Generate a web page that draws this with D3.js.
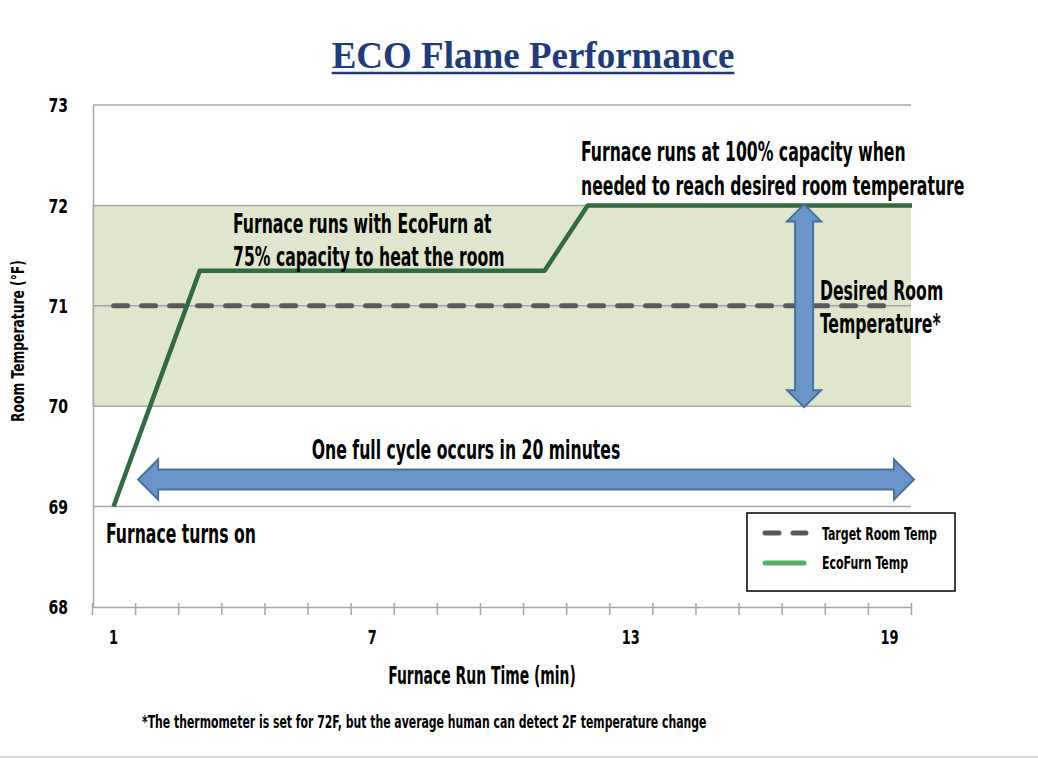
<!DOCTYPE html>
<html>
<head>
<meta charset="utf-8">
<script src="https://cdn.jsdelivr.net/npm/d3@7"></script>
<style>
  body { margin: 0; background: #fff; }
  svg { display: block; }
</style>
</head>
<body>
<div id="chart"></div>
<script>
// data
const minutes = d3.range(1, 20);              // 1..19 categories on the axis
const minuteLabels = [1, 7, 13, 19];
const tempTicks = [68, 69, 70, 71, 72, 73];
const targetTemp = minutes.map(() => 71);      // Target Room Temp
const ecoMinutes = d3.range(1, 21);            // line runs on past the last tick (clipped)
const ecoTemp = [69, 70.18, 71.35, 71.35, 71.35, 71.35, 71.35, 71.35, 71.35, 71.35,
                 71.35, 72, 72, 72, 72, 72, 72, 72, 72, 72];
const desiredBand = [70, 72];
const cycleArrow = { from: 1.57, to: 19.57, temp: 69.27 };
const rangeArrow = { minute: 17.02, from: 72.01, to: 69.99 };

const FONT = "'Liberation Sans Narrow', 'DejaVu Sans Condensed', sans-serif";
const SX = 0.645; // squeeze to get the condensed look

const W = 1038, H = 760;
const plotL = 92, plotR = 911, plotT = 105, plotB = 607;

const svg = d3.select("#chart").append("svg")
    .attr("width", W)
    .attr("height", H);

svg.append("rect").attr("width", W).attr("height", H).attr("fill", "#fff");

const x = d3.scaleLinear().domain([0.5, 19.5]).range([plotL, plotR]);
const y = d3.scaleLinear().domain([68, 73]).range([plotB, plotT]);

function label(g, px, py, str, size, opts) {
    opts = opts || {};
    return g.append("text")
        .attr("transform", "translate(" + px + "," + py + ") scale(" + (opts.sx || SX) + ",1)")
        .attr("font-family", FONT)
        .attr("font-size", size)
        .attr("font-weight", opts.weight || "bold")
        .attr("text-anchor", opts.anchor || "start")
        .attr("dy", opts.dy || null)
        .attr("fill", opts.fill || "#000")
        .text(str);
}

// title
const title = svg.append("text")
    .attr("x", 533)
    .attr("y", 68)
    .attr("text-anchor", "middle")
    .attr("font-family", "'Liberation Serif', 'Times New Roman', serif")
    .attr("font-weight", "bold")
    .attr("font-size", 37)
    .attr("fill", "#1f3b7c")
    .text("ECO Flame Performance");
const tw = title.node().getComputedTextLength();
svg.append("line")
    .attr("x1", 533 - tw / 2).attr("x2", 533 + tw / 2)
    .attr("y1", 73).attr("y2", 73)
    .attr("stroke", "#1f3b7c").attr("stroke-width", 2.5);

// desired band
svg.append("rect")
    .attr("x", x(0.5))
    .attr("y", y(desiredBand[1]))
    .attr("width", x(19.5) - x(0.5))
    .attr("height", y(desiredBand[0]) - y(desiredBand[1]))
    .attr("fill", "#dfe6cd");

// grid
svg.append("g").selectAll("line")
    .data(tempTicks.slice(1))
    .join("line")
    .attr("x1", x(0.5) + 1).attr("x2", x(19.5))
    .attr("y1", d => y(d)).attr("y2", d => y(d))
    .attr("stroke", "#a6a6a6").attr("stroke-width", 1.5);

// y axis
const yAxis = svg.append("g")
    .attr("transform", "translate(" + (x(0.5) + 1) + ",0)")
    .call(d3.axisLeft(y).tickValues(tempTicks).tickSize(0).tickFormat("").tickSizeOuter(0));
yAxis.select(".domain").attr("stroke", "#a6a6a6").attr("stroke-width", 1.5);

const yLabels = svg.append("g");
tempTicks.forEach(t => label(yLabels, 68, y(t), t, 20, { anchor: "end", dy: "0.36em", sx: 0.78 }));

// x axis: tick marks between categories, labels every 6th
const xAxis = svg.append("g")
    .attr("transform", "translate(0," + plotB + ")")
    .call(d3.axisBottom(x).tickValues(d3.range(0.5, 20, 1)).tickFormat("").tickSizeOuter(0));
xAxis.select(".domain").attr("stroke", "#a6a6a6").attr("stroke-width", 1.5);
xAxis.selectAll(".tick line").attr("y1", -4).attr("y2", 8).attr("stroke", "#a6a6a6").attr("stroke-width", 1.5);

const xLabels = svg.append("g");
minuteLabels.forEach(m => label(xLabels, x(m), 644, m, 20, { anchor: "middle", sx: 0.72 }));

// axis titles
label(svg, 482, 684, "Furnace Run Time (min)", 24, { anchor: "middle" });
svg.append("text")
    .attr("transform", "translate(24,341) rotate(-90) scale(0.76,1)")
    .attr("text-anchor", "middle")
    .attr("font-family", FONT)
    .attr("font-size", 18)
    .attr("font-weight", "bold")
    .text("Room Temperature (\u00B0F)");

// target line
svg.append("path")
    .datum(minutes)
    .attr("fill", "none")
    .attr("stroke", "#595959")
    .attr("stroke-width", 5)
    .attr("stroke-linecap", "round")
    .attr("stroke-dasharray", "14,14")
    .attr("d", d3.line().x(d => x(d)).y((d, i) => y(targetTemp[i])));

// EcoFurn line
svg.append("clipPath").attr("id", "plotclip")
    .append("rect")
    .attr("x", x(0.5)).attr("y", 0)
    .attr("width", x(19.5) - x(0.5) + 1).attr("height", H);

svg.append("path")
    .datum(ecoMinutes)
    .attr("clip-path", "url(#plotclip)")
    .attr("fill", "none")
    .attr("stroke", "#316b41")
    .attr("stroke-width", 4.5)
    .attr("stroke-linejoin", "round")
    .attr("d", d3.line().x(d => x(d)).y((d, i) => y(ecoTemp[i])));

// arrows
function arrowPath(x1, y1, x2, y2, headLen, headHalf, shaftHalf) {
    const len = Math.hypot(x2 - x1, y2 - y1);
    const ux = (x2 - x1) / len, uy = (y2 - y1) / len;
    const nx = -uy, ny = ux;
    const pts = [
        [0, 0], [headLen, headHalf], [headLen, shaftHalf], [len - headLen, shaftHalf],
        [len - headLen, headHalf], [len, 0], [len - headLen, -headHalf],
        [len - headLen, -shaftHalf], [headLen, -shaftHalf], [headLen, -headHalf]
    ].map(p => [x1 + ux * p[0] + nx * p[1], y1 + uy * p[0] + ny * p[1]]);
    return "M" + pts.map(p => p.join(",")).join("L") + "Z";
}

svg.append("path")
    .attr("d", arrowPath(x(cycleArrow.from), y(cycleArrow.temp), x(cycleArrow.to), y(cycleArrow.temp), 20, 20, 10))
    .attr("fill", "#6a95c8")
    .attr("stroke", "#44719f")
    .attr("stroke-width", 2)
    .attr("stroke-linejoin", "miter");

svg.append("path")
    .attr("d", arrowPath(x(rangeArrow.minute), y(rangeArrow.from), x(rangeArrow.minute), y(rangeArrow.to), 17, 17, 9))
    .attr("fill", "#6a95c8")
    .attr("stroke", "#44719f")
    .attr("stroke-width", 2)
    .attr("stroke-linejoin", "miter");

// annotations
label(svg, 106, 543, "Furnace turns on", 27);
label(svg, 233, 233, "Furnace runs with EcoFurn at", 27);
label(svg, 233, 266, "75% capacity to heat the room", 27);
label(svg, 581, 161, "Furnace runs at 100% capacity when", 27);
label(svg, 581, 195, "needed to reach desired room temperature", 27);
label(svg, 820, 300, "Desired Room", 27);
label(svg, 820, 333, "Temperature*", 27);
label(svg, 466, 459, "One full cycle occurs in 20 minutes", 27, { anchor: "middle" });

// legend
const lg = svg.append("g");
lg.append("rect")
    .attr("x", 747).attr("y", 513)
    .attr("width", 208).attr("height", 78)
    .attr("fill", "#fff")
    .attr("stroke", "#000")
    .attr("stroke-width", 1.5);
lg.append("line")
    .attr("x1", 765).attr("x2", 806).attr("y1", 533).attr("y2", 533)
    .attr("stroke", "#595959").attr("stroke-width", 5)
    .attr("stroke-linecap", "round").attr("stroke-dasharray", "14,14");
lg.append("line")
    .attr("x1", 765).attr("x2", 804).attr("y1", 563).attr("y2", 563)
    .attr("stroke", "#5aad66").attr("stroke-width", 5)
    .attr("stroke-linecap", "round");
label(lg, 822, 540, "Target Room Temp", 17, { sx: 0.72 });
label(lg, 822, 569, "EcoFurn Temp", 17, { sx: 0.72 });

// footnote
label(svg, 142, 728, "*The thermometer is set for 72F, but the average human can detect 2F temperature change", 18, { sx: 0.672 });

// page edge line
svg.append("line")
    .attr("x1", 0).attr("x2", W).attr("y1", 757).attr("y2", 757)
    .attr("stroke", "#d9d9d9").attr("stroke-width", 2);
</script>
</body>
</html>
